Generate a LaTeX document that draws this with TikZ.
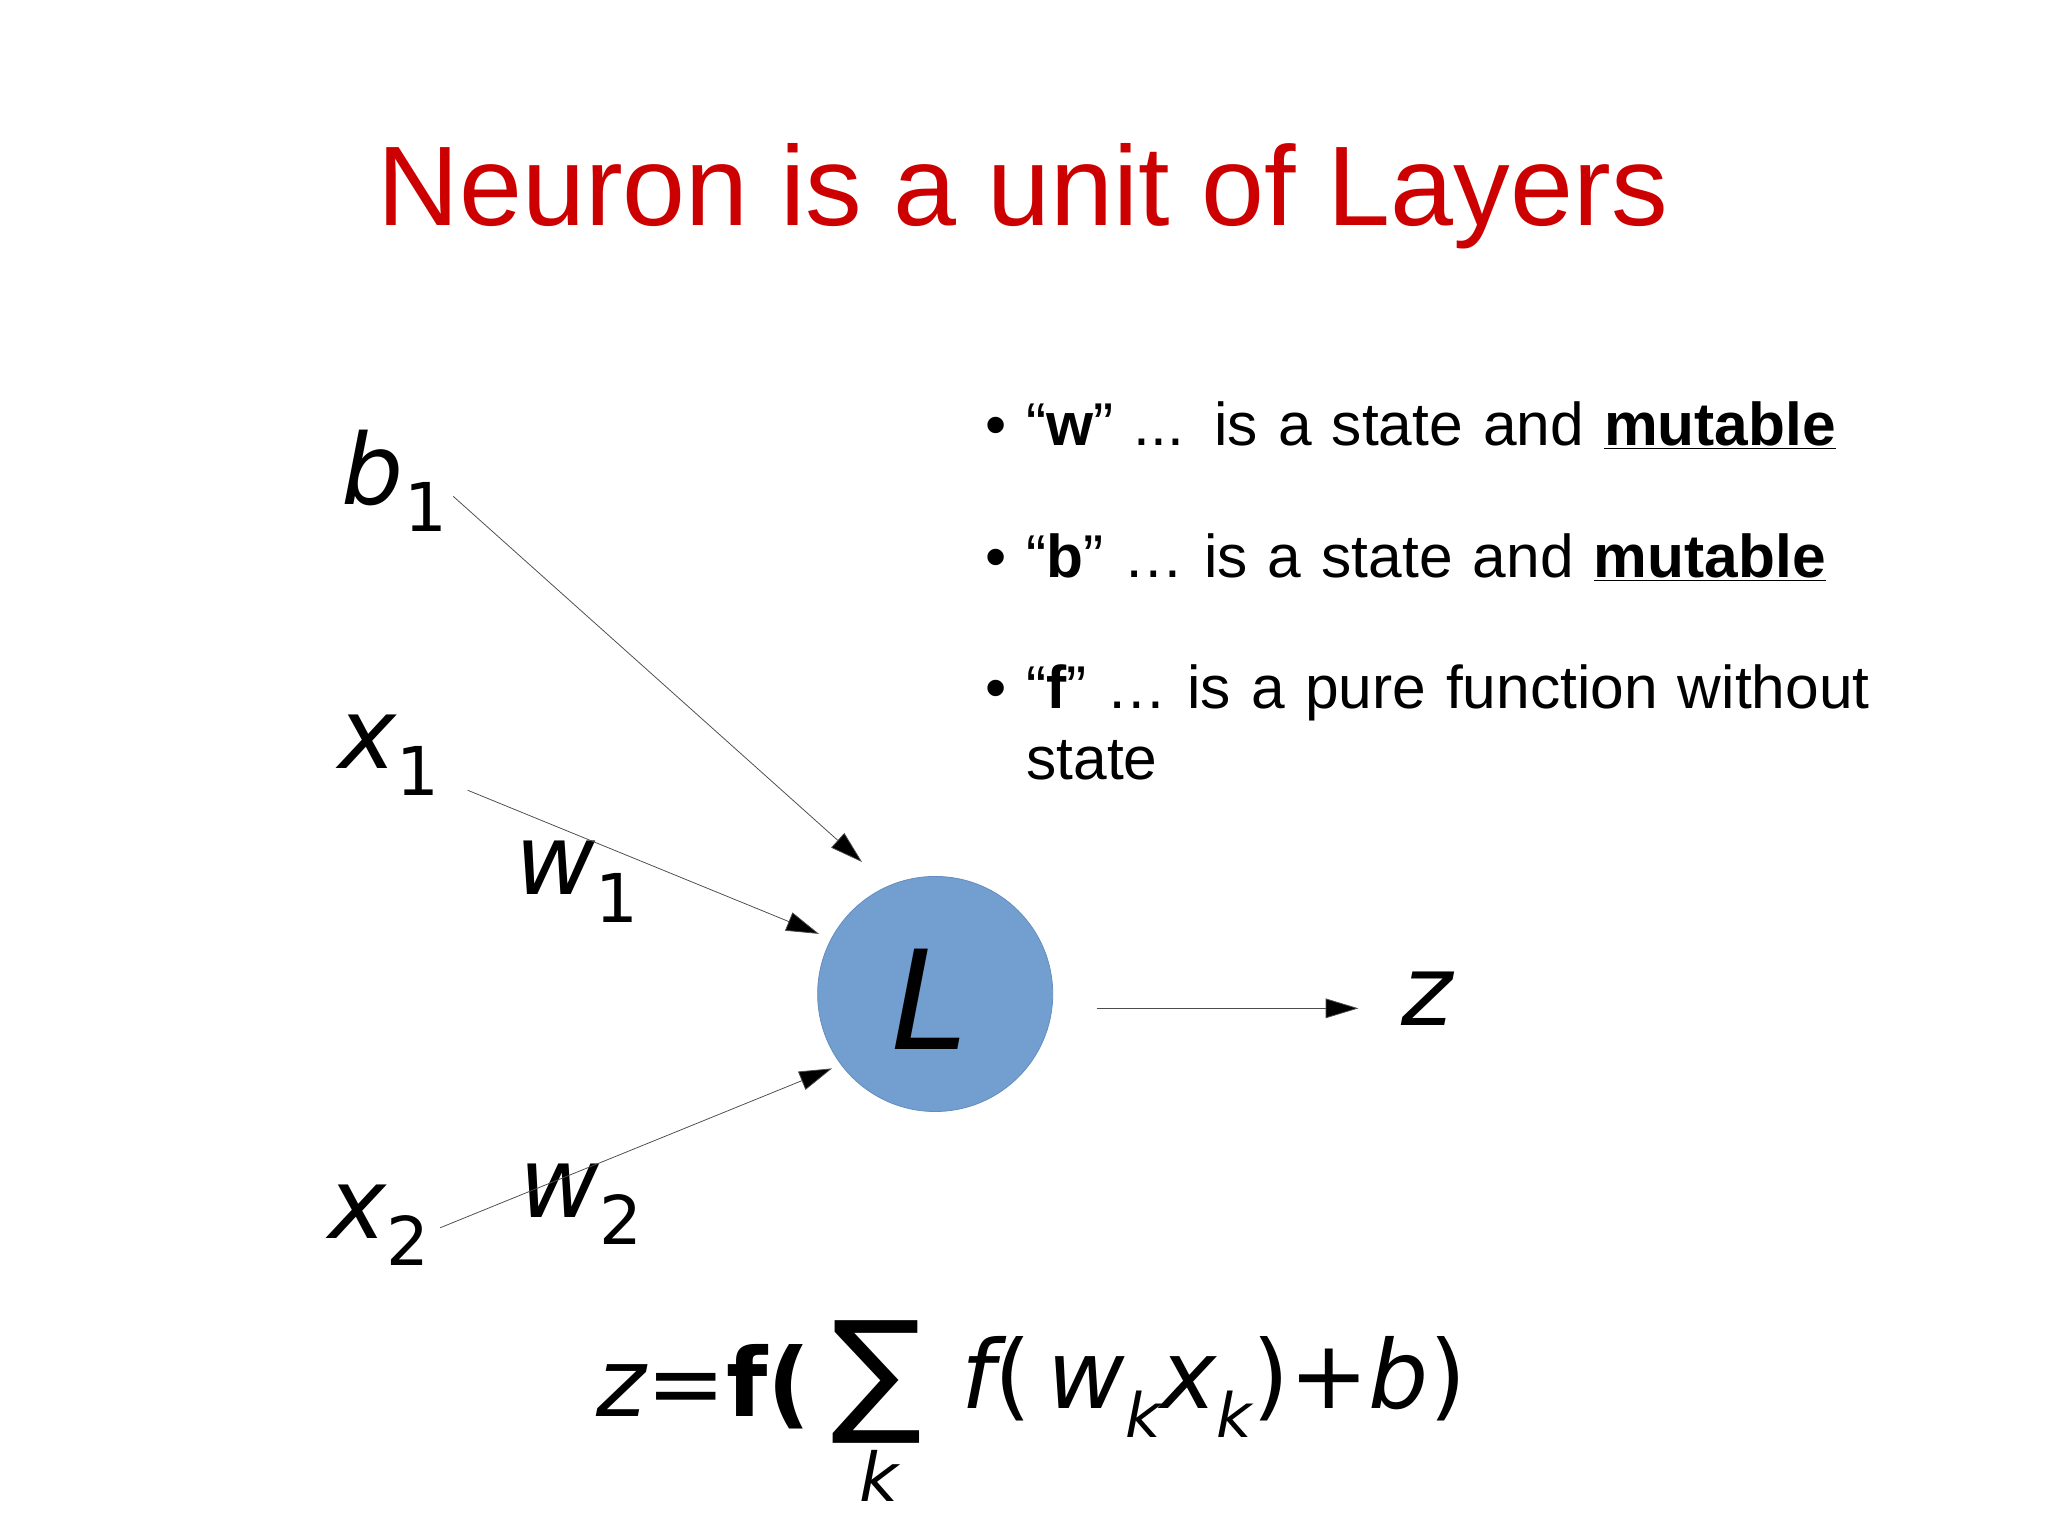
\documentclass[tikz,border=0pt]{standalone}
\usepackage{fontspec}
\setmainfont{Liberation Sans}
\newfontfamily\djv{DejaVu Sans}
\usetikzlibrary{arrows.meta}
\newcommand{\sbs}[1]{\raisebox{-0.28em}{\normalfont\djv\fontsize{44}{44}\selectfont #1}}
\newcommand{\kk}{\raisebox{-0.3em}{\djv\itshape\fontsize{40}{40}\selectfont k}}
\begin{document}
\begin{tikzpicture}[x=0.03cm,y=-0.03cm,
  conn/.style={draw=black!70,line width=0.5pt,-{Triangle[length=0.75cm,width=0.45cm,fill=black]}},
  lab/.style={font=\djv\itshape\fontsize{64}{70}\selectfont},
  bul/.style={anchor=west,font=\fontsize{39.5}{46}\selectfont,align=left,text width=22cm},
  fml/.style={font=\djv\fontsize{62}{70}\selectfont}]
\useasboundingbox[fill=white] (0,0) rectangle (1568,1175);
\node[text=red!80!black,font=\fontsize{74}{80}\selectfont] (title) at (783,150) {Neuron is a unit of Layers};
\node[circle,minimum size=5.4cm,fill={rgb,255:red,114;green,159;blue,207},draw={rgb,255:red,100;green,140;blue,190},line width=0.5pt] (L) at (716,761) {};
\node[font=\djv\itshape\fontsize{90}{90}\selectfont] (Ltxt) at (712,765) {L};
\node[lab] (b1) at (302,368) {b\sbs{1}};
\node[lab] (x1) at (298,578) {x\sbs{1}};
\node[lab] (x2) at (290,938) {x\sbs{2}};
\node[lab] (w1) at (442,675) {w\sbs{1}};
\node[lab] (w2) at (445,922) {w\sbs{2}};
\node[lab] (z) at (1093,765) {z};
\coordinate (sb) at (347,380); \coordinate (eb) at (660,660);
\coordinate (s1) at (358,605); \coordinate (e1) at (627,715);
\coordinate (s2) at (337,940); \coordinate (e2) at (637,818);
\coordinate (so) at (840,772); \coordinate (eo) at (1040,772);
\draw[conn] (sb) -- (eb);
\draw[conn] (s1) -- (e1);
\draw[conn] (s2) -- (e2);
\draw[conn] (so) -- (eo);
\node[bul] (t1) at (750,326) {• “\textbf{w}” ... is a state and \underline{\textbf{mutable}}};
\node[bul] (t2) at (750,427) {• “\textbf{b}” … is a state and \underline{\textbf{mutable}}};
\node[bul,text width=24cm] (t3) at (750,553) {• “\textbf{f}” … is a pure function without\\\hspace*{0.95cm}state};
\node[fml,anchor=east] (fa) at (625,1062) {\itshape z\upshape=\bfseries f(};
\node[fml,font=\djv\fontsize{88}{90}\selectfont] (sum) at (671,1058) {∑};
\node[fml,font=\djv\itshape\fontsize{44}{50}\selectfont] (k) at (673,1130) {k};
\node[fml,anchor=west] (fb) at (732,1062) {\itshape f\upshape(\,\itshape w\kk x\kk\upshape)+\itshape b\upshape)};
\end{tikzpicture}
\end{document}
